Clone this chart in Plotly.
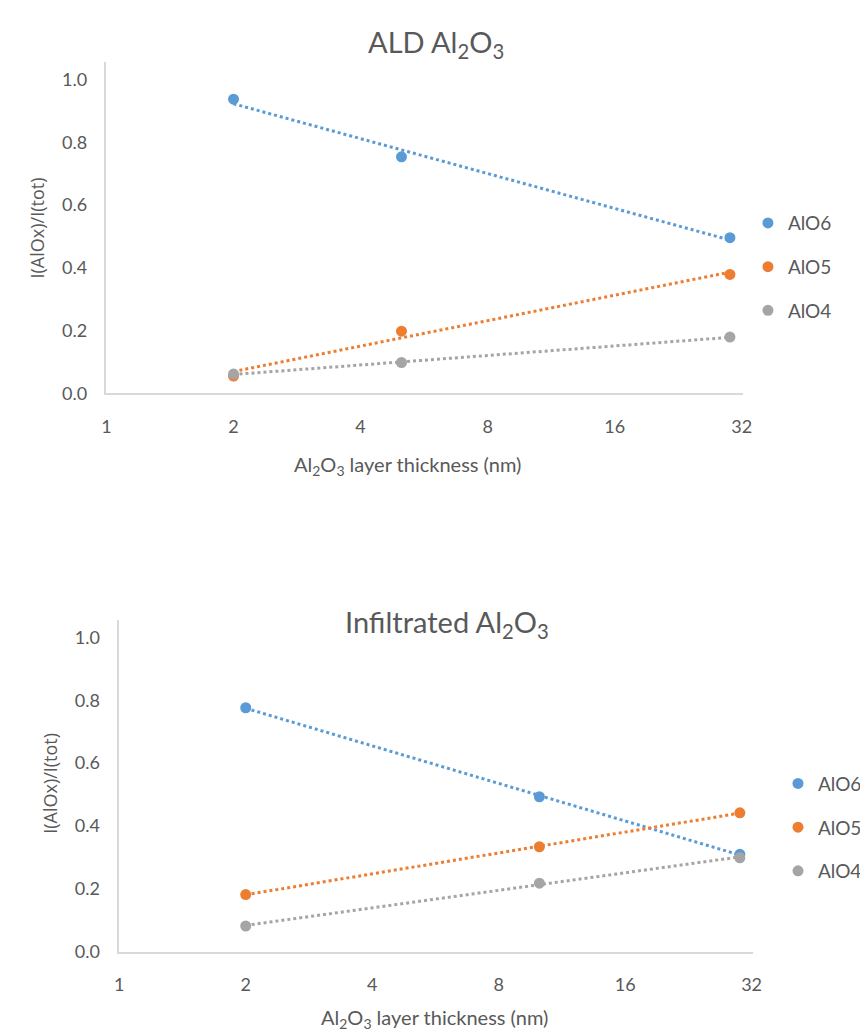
import numpy as np
import plotly.graph_objects as go

# ---- data ----
thick_ald = [2, 5, 30]
ald_alo6 = [0.938, 0.754, 0.496]
ald_alo5 = [0.055, 0.198, 0.379]
ald_alo4 = [0.061, 0.098, 0.179]

thick_inf = [2, 10, 30]
inf_alo6 = [0.776, 0.493, 0.310]
inf_alo5 = [0.182, 0.334, 0.442]
inf_alo4 = [0.082, 0.218, 0.299]

series_names = ["AlO6", "AlO5", "AlO4"]
colors = ["#5B9BD5", "#ED7D31", "#A5A5A5"]
x_ticks = [1, 2, 4, 8, 16, 32]

W, H = 868, 1033
FONT = "Lato"
TXT = "#595959"

fig = go.Figure()

def add_panel(xs, ys_list, xa, ya, legend):
    for name, ys, col in zip(series_names, ys_list, colors):
        # logarithmic trendline (least squares of y on ln x), like Excel
        a, b = np.polyfit(np.log(xs), ys, 1)
        xt = np.array([min(xs), max(xs)], dtype=float)
        fig.add_trace(go.Scatter(x=xt, y=a * np.log(xt) + b, mode="lines",
                                 line=dict(color=col, width=3, dash="dot"),
                                 showlegend=False, hoverinfo="skip",
                                 xaxis=xa, yaxis=ya))
    for name, ys, col in zip(series_names, ys_list, colors):
        fig.add_trace(go.Scatter(x=xs, y=ys, mode="markers", name=name,
                                 marker=dict(color=col, size=11),
                                 legend=legend, legendgroup=legend + name,
                                 xaxis=xa, yaxis=ya))

add_panel(thick_ald, [ald_alo6, ald_alo5, ald_alo4], "x", "y", "legend")
add_panel(thick_inf, [inf_alo6, inf_alo5, inf_alo4], "x2", "y2", "legend2")

def px_y(p):
    return 1 - p / H

xcommon = dict(type="log", range=[0, np.log10(32) + 0.003], tickvals=x_ticks,
               ticktext=[str(v) for v in x_ticks], showgrid=False, zeroline=False,
               showline=True, linecolor="#D9D9D9", linewidth=1.5,
               ticks="outside", ticklen=16, tickcolor="rgba(0,0,0,0)",
               tickfont=dict(family=FONT, size=18, color=TXT), fixedrange=True)
ycommon = dict(range=[0, 1.055], tickvals=[0, 0.2, 0.4, 0.6, 0.8, 1.0],
               ticktext=["0.0", "0.2", "0.4", "0.6", "0.8", "1.0"],
               showgrid=False, zeroline=False, showline=True, linecolor="#D9D9D9",
               linewidth=1.5, ticks="outside", ticklen=14, tickcolor="rgba(0,0,0,0)",
               tickfont=dict(family=FONT, size=18, color=TXT), fixedrange=True)

legfont = dict(family=FONT, size=19, color=TXT)
fig.update_layout(
    width=W, height=H, margin=dict(l=0, r=0, t=0, b=0),
    paper_bgcolor="white", plot_bgcolor="white",
    xaxis=dict(domain=[95 / W, 742 / W], anchor="y", **xcommon),
    yaxis=dict(domain=[px_y(389), px_y(55)], anchor="x", **ycommon),
    xaxis2=dict(domain=[108 / W, 752 / W], anchor="y2", **xcommon),
    yaxis2=dict(domain=[px_y(953), px_y(618)], anchor="x2", **ycommon),
    legend=dict(x=747 / W, y=px_y(198), xanchor="left", yanchor="top",
                font=legfont, traceorder="grouped",
                tracegroupgap=16, itemwidth=30, bgcolor="rgba(0,0,0,0)"),
    legend2=dict(x=1.0, y=px_y(764), xanchor="right", yanchor="top",
                 font=legfont, traceorder="grouped",
                 tracegroupgap=16, itemwidth=30, bgcolor="rgba(0,0,0,0)"),
)

annos = [
    dict(text="ALD Al<sub>2</sub>O<sub>3</sub>", x=430 / W, y=px_y(36), size=29),
    dict(text="Infiltrated Al<sub>2</sub>O<sub>3</sub>", x=441 / W, y=px_y(622), size=29),
    dict(text="Al<sub>2</sub>O<sub>3</sub> layer thickness (nm)", x=401 / W, y=px_y(462), size=20),
    dict(text="Al<sub>2</sub>O<sub>3</sub> layer thickness (nm)", x=428 / W, y=px_y(1020), size=20),
]
for a in annos:
    fig.add_annotation(text=a["text"], x=a["x"], y=a["y"], xref="paper", yref="paper",
                       xanchor="center", yanchor="middle", showarrow=False,
                       font=dict(family=FONT, size=a["size"], color=TXT))
for xx, yy in [(24, 222), (38, 783)]:
    fig.add_annotation(text="I(AlOx)/I(tot)", x=xx / W, y=px_y(yy), xref="paper",
                       yref="paper", textangle=-90, showarrow=False,
                       xanchor="center", yanchor="middle",
                       font=dict(family="Open Sans", size=18, color=TXT))

fig.write_html("out.html")
